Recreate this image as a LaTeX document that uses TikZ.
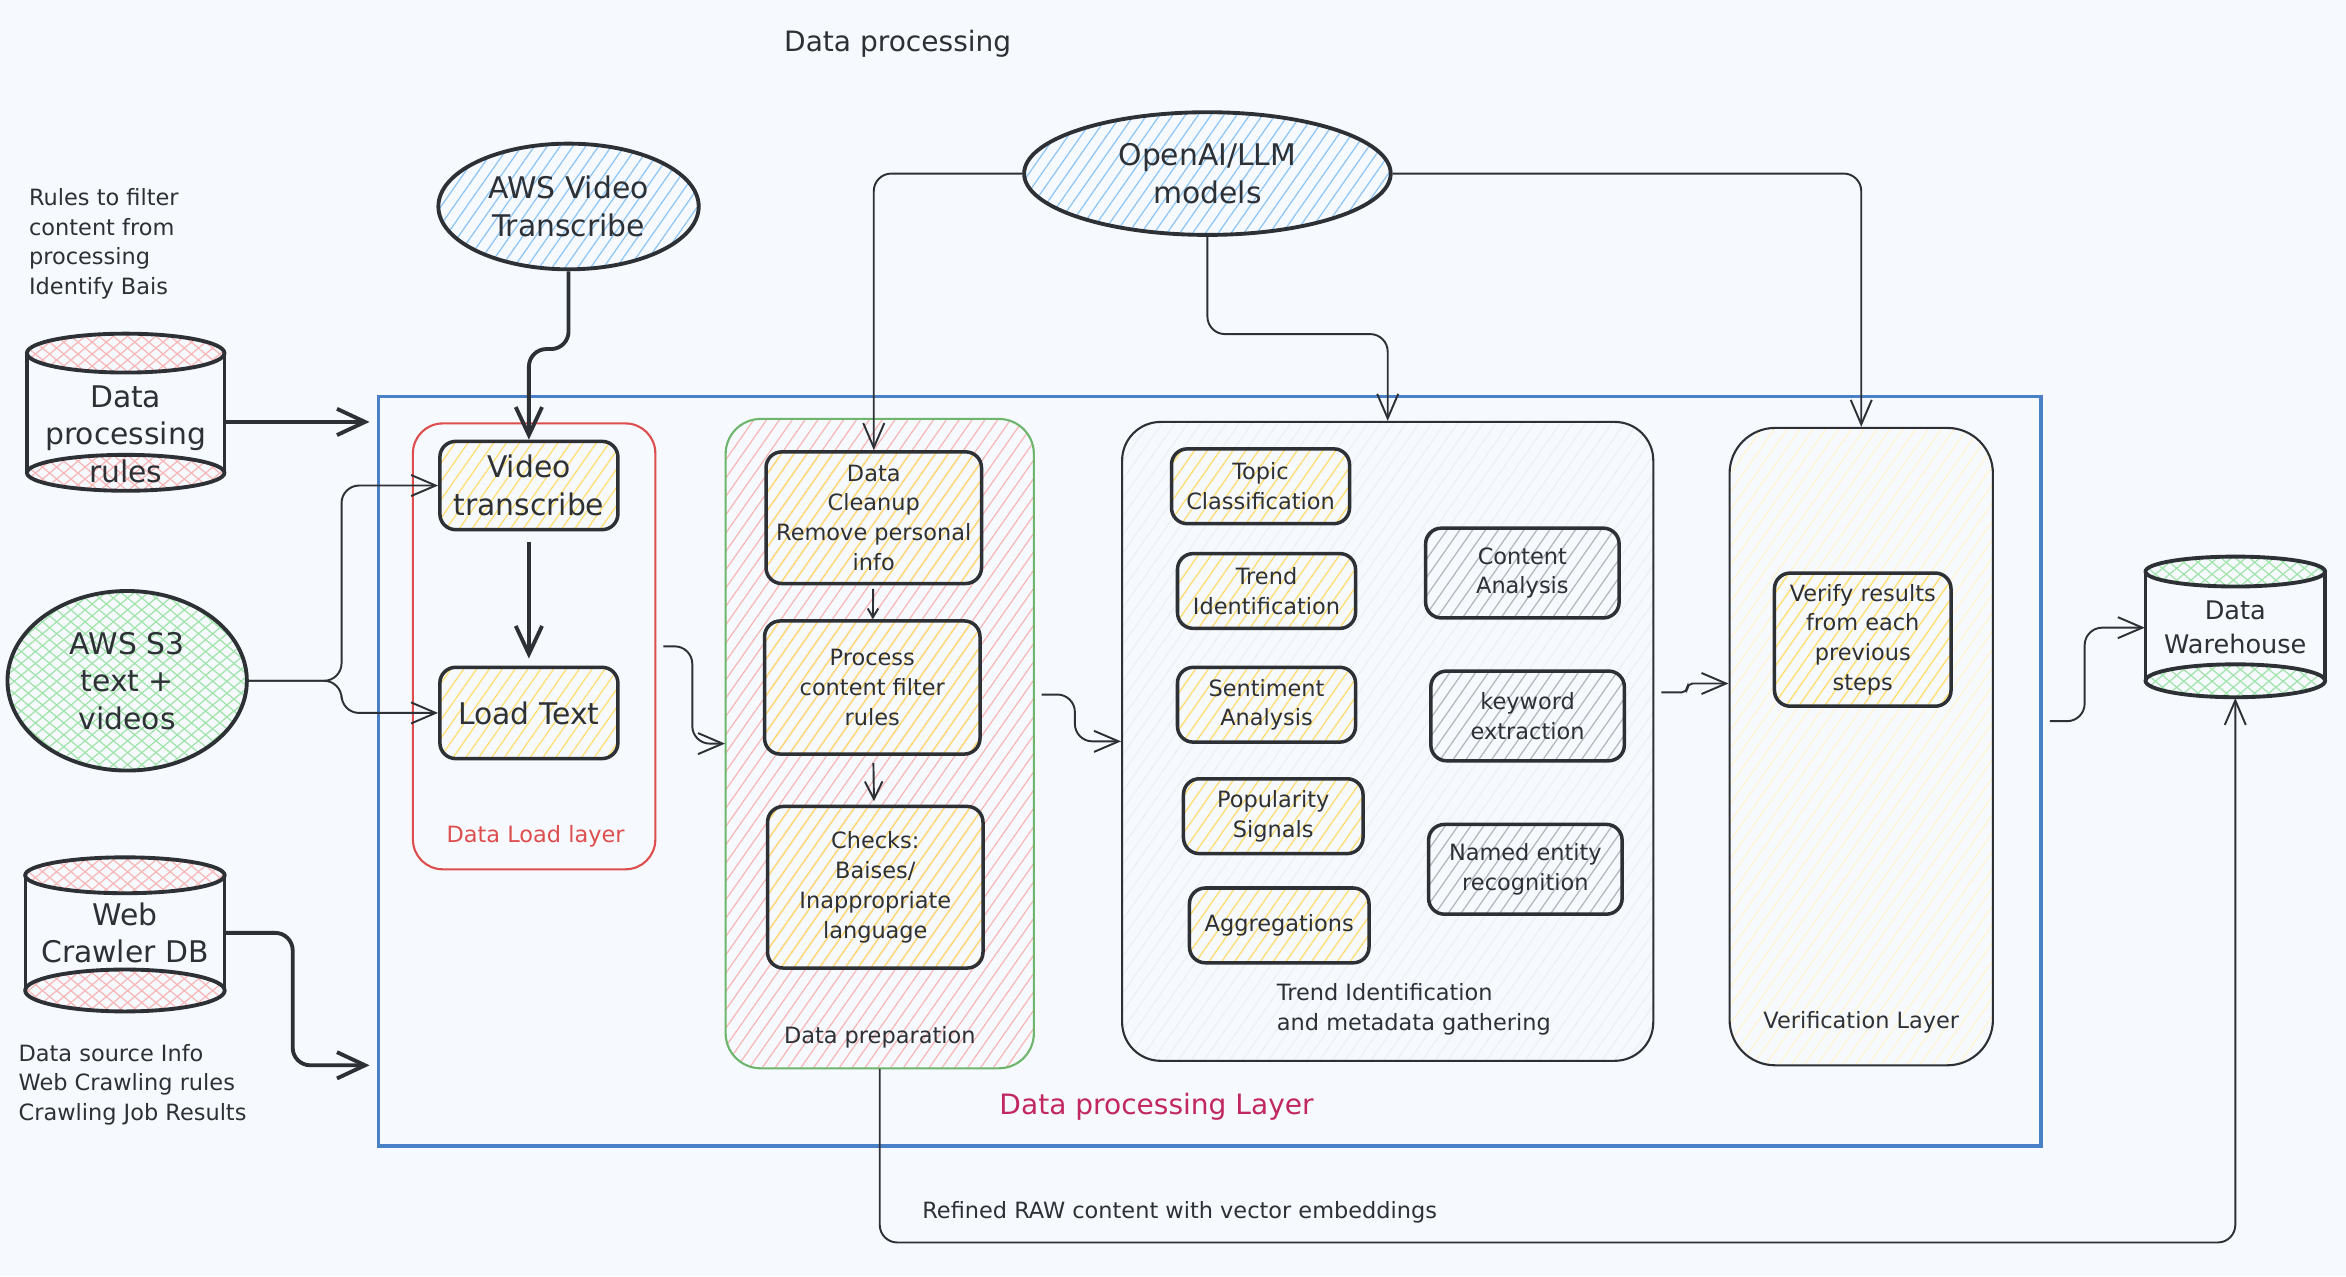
\documentclass[tikz,border=0pt]{standalone}
\usepackage{fontspec}
\setmainfont{DejaVu Sans}
\usetikzlibrary{arrows.meta,patterns.meta,shapes.geometric}

\definecolor{paper}{RGB}{246,249,253}
\definecolor{ink}{RGB}{45,48,52}
\definecolor{layerblue}{RGB}{74,128,198}
\definecolor{loadred}{RGB}{222,78,78}
\definecolor{prepgreen}{RGB}{110,182,110}
\definecolor{layerpink}{RGB}{194,40,96}
\definecolor{hatchyellow}{RGB}{255,222,110}
\definecolor{hatchpink}{RGB}{248,182,182}
\definecolor{hatchgreen}{RGB}{160,228,170}
\definecolor{hatchblue}{RGB}{140,198,248}
\definecolor{hatchgray}{RGB}{178,184,192}

\tikzset{
    bigfont/.style={font=\fontsize{8.5}{10.7}\selectfont},
    smallfont/.style={font=\fontsize{6.4}{8.5}\selectfont},
    hatchfill/.style={pattern={Lines[angle=55,distance=3pt,line width=.35pt]}, pattern color=#1},
    crossfill/.style={preaction={pattern={Lines[angle=40,distance=2.6pt,line width=.35pt]}, pattern color=#1},
                      pattern={Lines[angle=-40,distance=2.6pt,line width=.35pt]}, pattern color=#1},
    stepnode/.style={draw=ink, line width=1pt, rounded corners=4.5pt, inner sep=0pt, align=center, text=ink, smallfont},
    dbshape/.style={draw=ink, line width=1.1pt},
    flow/.style={draw=ink, line width=.55pt, -{Straight Barb[length=7pt,width=6pt]}},
    boldflow/.style={draw=ink, line width=1.1pt, -{Straight Barb[length=8pt,width=7.5pt]}},
}

\begin{document}
\begin{tikzpicture}[x=0.015cm, y=-0.015cm]
    \fill[paper] (0,0) rectangle (1568,853);
    \useasboundingbox (0,0) rectangle (1568,853);

    \node[font=\fontsize{8}{10}\selectfont, text=ink] (title) at (600,29) {Data processing};

    % layers
    \begin{scope}[every node/.style={inner sep=0pt}]
        \node[draw=layerblue, line width=1.1pt, minimum width=16.665cm, minimum height=7.515cm] (dpl) at (808.5,515.5) {};
        \node[draw=loadred, line width=.6pt, rounded corners=8.5pt, minimum width=2.43cm, minimum height=4.47cm] (dll) at (357,432) {};
        \node[draw=prepgreen, line width=.6pt, rounded corners=10pt, hatchfill=hatchpink, minimum width=3.09cm, minimum height=6.51cm] (dprep) at (588,497) {};
        \node[draw=ink, line width=.6pt, rounded corners=11pt, hatchfill=hatchgray!22, minimum width=5.325cm, minimum height=6.405cm] (tim) at (927.5,495.5) {};
        \node[draw=ink, line width=.6pt, rounded corners=13pt, hatchfill=hatchyellow!30, minimum width=2.64cm, minimum height=6.39cm] (ver) at (1244,499) {};
    \end{scope}

    \begin{scope}[every node/.style={inner sep=0pt, smallfont, text=ink}]
        \node[font=\fontsize{8}{10}\selectfont, text=layerpink] (dpllbl) at (773,740) {Data processing Layer};
        \node[text=loadred] (dlllbl) at (358,559) {Data Load layer};
        \node (preplbl) at (588,693) {Data preparation};
        \node[align=left, anchor=west] (timlbl) at (853,674.5) {Trend Identification\\and metadata gathering};
        \node (verlbl) at (1244,683) {Verification Layer};
        \node[align=left, anchor=west] (rulesnote) at (19,163) {Rules to filter\\content from\\processing\\Identify Bais};
        \node[align=left, anchor=west] (sourcenote) at (12,725) {Data source Info\\Web Crawling rules\\Crawling Job Results};
        \node[anchor=west] (rawlbl) at (616,810) {Refined RAW content with vector embeddings};
    \end{scope}

    % load layer
    \begin{scope}[every node/.style={stepnode, bigfont, hatchfill=hatchyellow}]
        \node[minimum width=1.785cm, minimum height=.885cm] (vt) at (353.5,324.5) {Video\\transcribe};
        \node[minimum width=1.785cm, minimum height=.915cm] (lt) at (353.5,476.5) {Load Text};
    \end{scope}

    % preparation
    \begin{scope}[every node/.style={stepnode, hatchfill=hatchyellow, minimum width=2.16cm}]
        \node[minimum height=1.32cm] (dc) at (584,346) {Data\\Cleanup\\Remove personal\\info};
        \node[minimum height=1.335cm] (pcf) at (583,459.5) {Process\\content filter\\rules};
        \node[minimum height=1.62cm] (chk) at (585,593) {Checks:\\Baises/\\Inappropriate\\language};
    \end{scope}

    % trend and metadata
    \begin{scope}[every node/.style={stepnode, hatchfill=hatchyellow, minimum height=.75cm}]
        \node[minimum width=1.785cm] (tc) at (842.5,325) {Topic\\Classification};
        \node[minimum width=1.785cm] (ti) at (846.5,395) {Trend\\Identification};
        \node[minimum width=1.785cm] (sa) at (846.5,471) {Sentiment\\Analysis};
        \node[minimum width=1.8cm] (ps) at (851,545.5) {Popularity\\Signals};
        \node[minimum width=1.8cm] (ag) at (855,618.5) {Aggregations};
    \end{scope}
    \begin{scope}[every node/.style={stepnode, hatchfill=hatchgray, minimum width=1.94cm, minimum height=.9cm}]
        \node (ca) at (1017.5,383) {Content\\Analysis};
        \node (ke) at (1021,478.5) {keyword\\extraction};
        \node (ner) at (1019.5,581) {Named entity\\recognition};
    \end{scope}

    \node[stepnode, hatchfill=hatchyellow, minimum width=1.77cm, minimum height=1.335cm] (vr) at (1245,427.5) {Verify results\\from each\\previous\\steps};

    % stores
    \draw[dbshape, crossfill=hatchpink] (84,236) ellipse (.99cm and .195cm) (84,316) ellipse (.99cm and .18cm);
    \draw[dbshape] (18,236) -- (18,316) (150,236) -- (150,316);
    \draw[dbshape, crossfill=hatchpink] (83.5,585) ellipse (1cm and .18cm) (83.5,662) ellipse (1cm and .21cm);
    \draw[dbshape] (17,585) -- (17,662) (150,585) -- (150,662);
    \draw[dbshape, crossfill=hatchgreen] (1494,382) ellipse (.9cm and .15cm) (1494,455) ellipse (.9cm and .165cm);
    \draw[dbshape] (1434,382) -- (1434,455) (1554,382) -- (1554,455);

    \begin{scope}[every node/.style={inner sep=0pt, align=center, text=ink, bigfont}]
        \node[minimum width=1.98cm] (dpr) at (84,290) {Data\\processing\\rules};
        \node[minimum width=2cm] (wcd) at (83.5,623.5) {Web\\Crawler DB};
        \node[minimum width=1.8cm, minimum height=1.395cm, font=\fontsize{7.3}{9.8}\selectfont] (dw) at (1494,419.5) {Data\\Warehouse};
    \end{scope}

    % services
    \begin{scope}[every node/.style={ellipse, draw=ink, line width=1.1pt, inner sep=0pt, align=center, text=ink, bigfont}]
        \node[hatchfill=hatchblue, minimum width=2.61cm, minimum height=1.26cm] (avt) at (380,138) {AWS Video\\Transcribe};
        \node[hatchfill=hatchblue, minimum width=3.675cm, minimum height=1.23cm] (oai) at (807,116) {OpenAI/LLM\\models};
        \node[crossfill=hatchgreen, minimum width=2.4cm, minimum height=1.8cm] (s3) at (85,455) {AWS S3\\text +\\videos};
    \end{scope}

    % connectors
    \begin{scope}[rounded corners=5pt]
        \draw[boldflow, shorten >=2pt] ([yshift=3.4pt]dpr.east) -- (dpl.west |- 0,282);
        \draw[boldflow, shorten >=2pt] (wcd.east) -- ++(45,0) |- (dpl.west |- 0,712);
        \draw[boldflow] (avt.south) -- ++(0,52) -| (vt.north);
        \path (vt) edge[boldflow, shorten >=2pt, shorten <=3pt] (lt);
        \draw[flow] (s3.east) -- ++(62,0) |- (vt.west);
        \draw[flow] (s3.east) -- ++(62,0) |- (lt.west);
        \draw[flow, shorten <=2pt] (dll.east) -- ++(24,0) |- (dprep.west);
        \path (dc) edge[flow, -{Straight Barb[length=2.5pt,width=3pt]}, shorten <=1pt] (pcf);
        \path (pcf) edge[flow, -{Straight Barb[length=5pt,width=5pt]}, shorten <=2pt, shorten >=1pt] (chk);
        \draw[flow] (oai.west) -| (dc.north);
        \draw[flow] (oai.south) -- ++(0,65) -| (tim.north);
        \draw[flow] (oai.east) -| (ver.north);
        \draw[flow, shorten <=2pt] ([yshift=14pt]dprep.east) -- ++(27,0) |- (tim.west);
        \draw[flow, shorten <=2pt, rounded corners=1.5pt] ([yshift=14pt]tim.east) -- ++(22,0) |- ([yshift=18pt]ver.west);
        \draw[flow, shorten <=2pt] ([yshift=14.3pt]dpl.east) -- ++(28,0) |- (dw.west);
        \draw[flow] (dprep.south) -- ++(0,116) -| (dw.south);
    \end{scope}
\end{tikzpicture}
\end{document}
